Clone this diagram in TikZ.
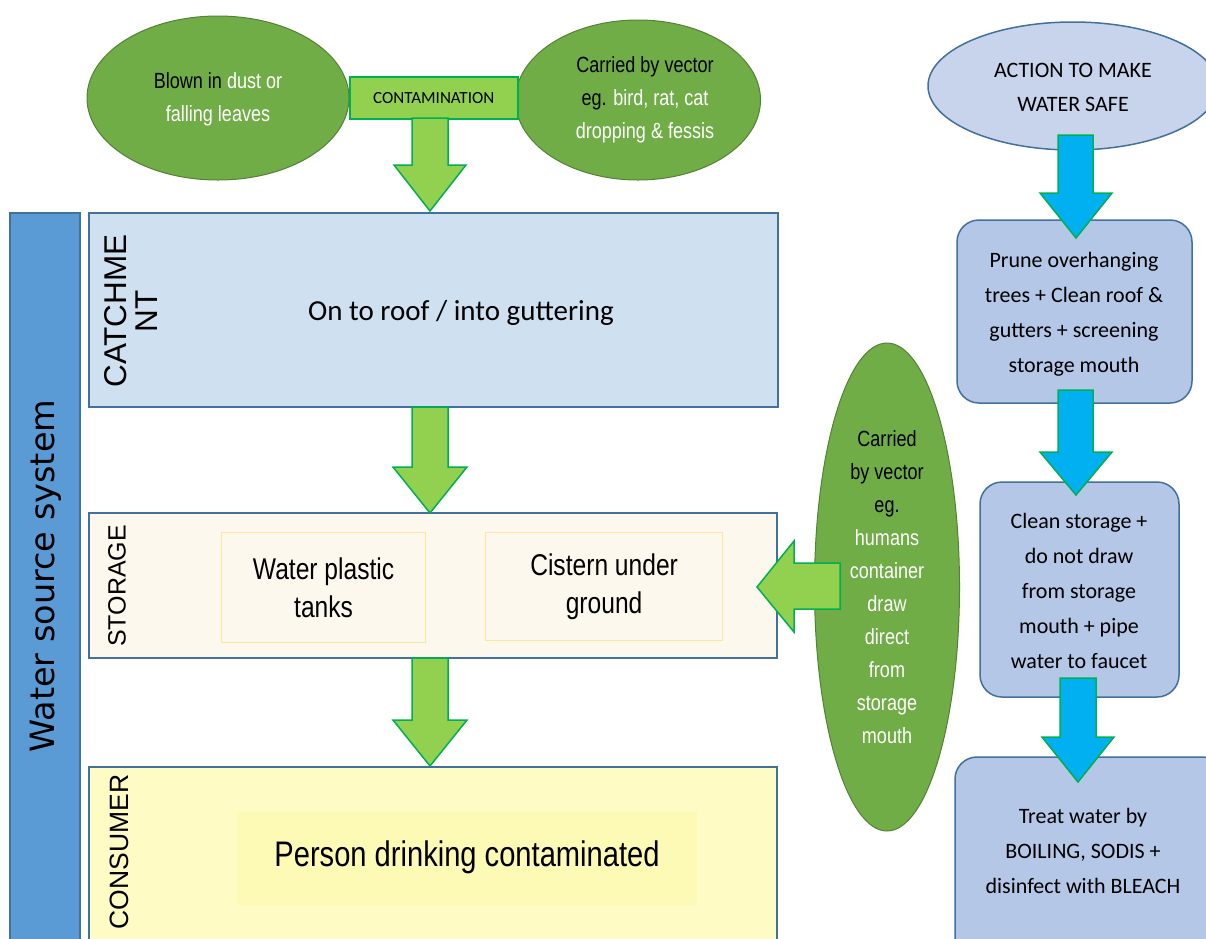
\documentclass[tikz,border=0pt]{standalone}
\usepackage{fontspec}
\setmainfont{Carlito}
\newfontfamily\narrow[FakeStretch=0.82]{Liberation Sans}
\newfontfamily\arialf{Liberation Sans}
\newfontfamily\dejavu{DejaVu Sans}
\usetikzlibrary{shapes.geometric}
\definecolor{gfill}{HTML}{70AD47}
\definecolor{gline}{HTML}{548235}
\definecolor{lgreen}{HTML}{92D050}
\definecolor{agreen}{HTML}{00B050}
\definecolor{cyanb}{HTML}{00B0F0}
\definecolor{bline}{HTML}{41719C}
\definecolor{barfill}{HTML}{5B9BD5}
\definecolor{catchfill}{HTML}{CFE0F1}
\definecolor{storfill}{HTML}{FCF8EE}
\definecolor{innerline}{HTML}{FFE699}
\definecolor{consfill}{HTML}{FEFCC4}
\definecolor{consinner}{HTML}{FDFAB6}
\definecolor{actfill}{HTML}{C8D4EC}
\definecolor{stepfill}{HTML}{B4C7E7}
% block arrow pointing down: style, shaft left, shaft right, top, head base, head left, head right, tip y
\newcommand\blockdown[8]{\draw[#1] (#2,#4) -- (#3,#4) -- (#3,#5) -- (#7,#5) -- ({(#6+#7)/2},#8) -- (#6,#5) -- (#2,#5) -- cycle;}
\tikzset{
  box/.style={draw=bline, line width=1.5, inner sep=0, outer sep=0, anchor=north west},
  gell/.style={ellipse, draw=gline, fill=gfill, line width=1, inner sep=0, outer sep=0},
  garrow/.style={draw=agreen, fill=lgreen, line width=1.5},
  barrow/.style={draw=agreen, fill=cyanb, line width=1.5},
  stepbox/.style={draw=bline, fill=stepfill, rounded corners=22, line width=1.5, inner sep=0, outer sep=0, anchor=north west},
  narrowtxt/.style={font=\narrow\fontsize{22}{33}\selectfont, align=center, inner sep=0},
  calitxt/.style={font=\fontsize{22}{35}\selectfont, align=center, inner sep=0},
  sidelabel/.style={font=\arialf\fontsize{24}{30}\selectfont, rotate=90, align=center, inner sep=0},
}
\begin{document}
\begin{tikzpicture}[x=1pt,y=-1pt]
\useasboundingbox (0,0) rectangle (1206,938);
\clip (0,0) rectangle (1206,938);
\fill[white] (0,0) rectangle (1206,938);

% left bar
\node[box, fill=barfill, minimum width=70, minimum height=760] (bar) at (10,213) {};
\node[rotate=90, font=\dejavu\fontsize{33.5}{38}\selectfont, inner sep=0] (bartxt) at (46,576) {Water source system};

% section boxes
\node[box, fill=catchfill, minimum width=689, minimum height=194] (catch) at (89,213) {};
\node[box, fill=storfill, minimum width=688, minimum height=145] (stor) at (89,513) {};
\node[box, fill=consfill, minimum width=688, minimum height=200] (cons) at (89,767) {};

\node[sidelabel, font=\arialf\fontsize{31.5}{32}\selectfont] (catchlbl) at (131,311) {CATCHME\\NT};
\node[sidelabel, font=\arialf\fontsize{25}{30}\selectfont] (storlbl) at (117,586) {STORAGE};
\node[sidelabel, font=\arialf\fontsize{26.5}{30}\selectfont] (conslbl) at (119,852) {CONSUMER};

\node[font=\fontsize{29}{35}\selectfont, inner sep=0] (catchtxt) at (461,313) {On to roof / into guttering};

\node[draw=innerline, line width=1.2, fill=storfill, minimum width=204, minimum height=110, anchor=north west, inner sep=0] (tanks) at (221,532) {};
\node[draw=innerline, line width=1.2, fill=storfill, minimum width=237, minimum height=108, anchor=north west, inner sep=0] (cistern) at (485,532) {};
\node[narrowtxt, font=\narrow\fontsize{30}{38}\selectfont] (tankstxt) at (tanks.center) {Water plastic\\tanks};
\node[narrowtxt, font=\narrow\fontsize{30}{38}\selectfont] (cisterntxt) at (cistern.center) {Cistern under\\ground};

\node[fill=consinner, minimum width=460, minimum height=93, anchor=north west, inner sep=0] (consin) at (237,812) {};
\node[font=\narrow\fontsize{35.5}{40}\selectfont, inner sep=0] (constxt) at (467,857) {Person drinking contaminated};

% top contamination ellipses
\node[gell, minimum width=262, minimum height=164] (dust) at (218,98) {};
\node[gell, minimum width=245, minimum height=160] (vector) at (638,100) {};
\node[narrowtxt] (dusttxt) at (218,99) {Blown in {\color{white}dust or}\\{\color{white}falling leaves}};
\node[narrowtxt] (vectortxt) at (645,100) {Carried by vector\\eg. {\color{white}bird, rat, cat}\\{\color{white}dropping \& fessis}};
\node[draw=agreen, fill=lgreen, line width=1.5, minimum width=168, minimum height=42, anchor=north west, inner sep=0] (contam) at (349,76) {};
\node[font=\fontsize{17}{20}\selectfont, inner sep=0] (contamtxt) at (contam.center) {CONTAMINATION};

% green down arrows
\blockdown{garrow}{412}{448}{118}{165}{394}{466}{211}
\blockdown{garrow}{412}{448}{407}{467}{393}{467}{513}
\blockdown{garrow}{412}{448}{658}{720}{393}{467}{766}

% tall vector ellipse and left arrow
\node[gell, minimum width=145, minimum height=488] (humans) at (887,587) {};
\node[narrowtxt] (humanstxt) at (887,587) {Carried\\by vector\\eg.\\{\color{white}humans}\\{\color{white}container}\\{\color{white}draw}\\{\color{white}direct}\\{\color{white}from}\\{\color{white}storage}\\{\color{white}mouth}};
\draw[garrow] (840,563) -- (840,609) -- (794,609) -- (794,632) -- (757,587) -- (794,541) -- (794,563) -- cycle;

% right column
\node[ellipse, draw=bline, fill=actfill, line width=1.5, minimum width=290, minimum height=128, inner sep=0] (action) at (1073,86) {};
\node[calitxt, font=\fontsize{22}{34}\selectfont] (actiontxt) at (1073,87) {ACTION TO MAKE\\WATER SAFE};

\node[stepbox, minimum width=235, minimum height=183] (prune) at (957,220) {};
\node[stepbox, minimum width=199, minimum height=215] (cleanst) at (980,482) {};
\node[stepbox, minimum width=270, minimum height=220] (treat) at (955,757) {};

\blockdown{barrow}{1058}{1093}{135}{193}{1040}{1112}{238}
\blockdown{barrow}{1058}{1093}{390}{452}{1040}{1112}{495}
\blockdown{barrow}{1060}{1096}{678}{737}{1042}{1114}{782}

\node[calitxt] (prunetxt) at (1074,314) {Prune overhanging\\trees + Clean roof \&\\gutters + screening\\storage mouth};
\node[calitxt] (cleantxt) at (1079,591) {Clean storage +\\do not draw\\from storage\\mouth + pipe\\water to faucet};
\node[calitxt] (treattxt) at (1083,851) {Treat water by\\BOILING, SODIS +\\disinfect with BLEACH};
\end{tikzpicture}
\end{document}
